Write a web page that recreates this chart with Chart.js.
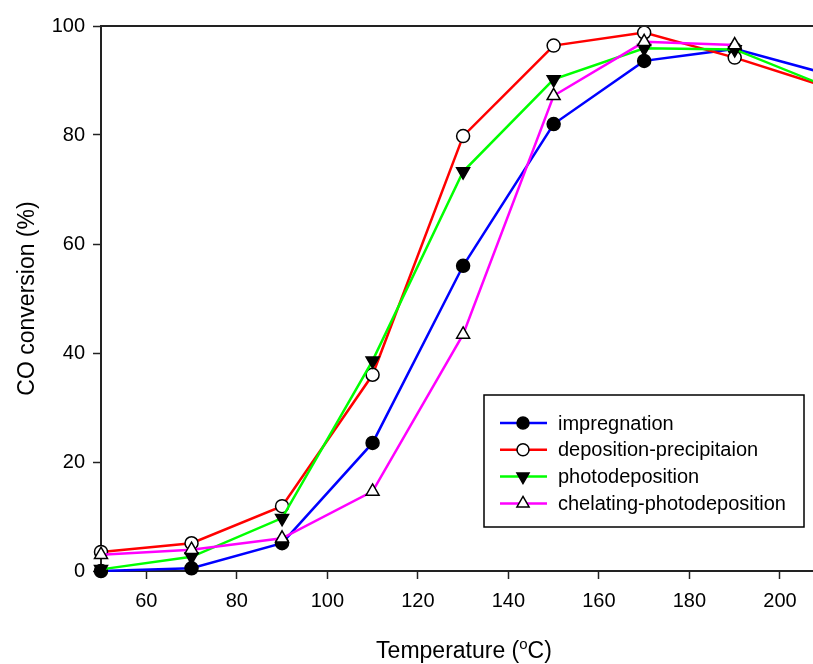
<!DOCTYPE html>
<html>
<head>
<meta charset="utf-8">
<script src="https://cdn.jsdelivr.net/npm/chart.js@4/dist/chart.umd.min.js"></script>
<style>
  html, body { margin: 0; padding: 0; background: #fff; }
  #wrap { width: 813px; height: 664px; }
</style>
</head>
<body>
<div id="wrap"><canvas id="coChart"></canvas></div>
<script>
// temperatures (°C)
const temps = [50, 70, 90, 110, 130, 150, 170, 190, 210];
const tempsChelating = [50, 70, 90, 110, 130, 150, 170, 190];

// CO conversion (%)
const impregnation = [0, 0.5, 5.1, 23.5, 56.0, 82.0, 93.6, 95.8, 91.3];
const depositionPrecipitation = [3.5, 5.1, 11.9, 36.0, 79.8, 96.4, 98.8, 94.2, 88.9];
const photodeposition = [0.3, 2.6, 9.7, 38.6, 73.3, 90.2, 95.9, 95.7, 89.0];
const chelatingPhotodeposition = [3.0, 3.9, 6.0, 14.6, 43.4, 87.2, 97.1, 96.5];

const seriesNames = ["impregnation", "deposition-precipitaion", "photodeposition", "chelating-photodeposition"];
const xTicks = [60, 80, 100, 120, 140, 160, 180, 200];
const yTicks = [0, 20, 40, 60, 80, 100];

const FONT = "'Liberation Sans', Arial, sans-serif";

function toPoints(xs, ys) {
  return xs.map((x, i) => ({ x: x, y: ys[i] }));
}

const styles = [
  { color: "#0000ff", style: "circle", fill: "#000", radius: 6.5, rotation: 0 },
  { color: "#ff0000", style: "circle", fill: "#fff", radius: 6.5, rotation: 0 },
  { color: "#00ff00", style: "triangle", fill: "#000", radius: 7.5, rotation: 180 },
  { color: "#ff00ff", style: "triangle", fill: "#fff", radius: 7.5, rotation: 0 }
];

const seriesData = [
  toPoints(temps, impregnation),
  toPoints(temps, depositionPrecipitation),
  toPoints(temps, photodeposition),
  toPoints(tempsChelating, chelatingPhotodeposition)
];

// later series are painted over earlier ones
const datasets = seriesData.map((pts, i) => ({
  label: seriesNames[i],
  data: pts,
  order: seriesData.length - i,
  showLine: true,
  borderColor: styles[i].color,
  borderWidth: 2.5,
  pointStyle: styles[i].style,
  pointRotation: styles[i].rotation,
  pointRadius: styles[i].radius,
  pointHoverRadius: styles[i].radius,
  pointBackgroundColor: styles[i].fill,
  pointBorderColor: "#000",
  pointBorderWidth: 1.5,
  clip: false
}));

// top frame line, axis titles and boxed legend
const decorations = {
  id: "decorations",
  afterDraw(chart) {
    const ctx = chart.ctx;
    const area = chart.chartArea;
    ctx.save();

    ctx.strokeStyle = "#222";
    ctx.lineWidth = 2;
    ctx.beginPath();
    ctx.moveTo(area.left, area.top);
    ctx.lineTo(area.right, area.top);
    ctx.stroke();

    ctx.fillStyle = "#000";
    ctx.textBaseline = "alphabetic";

    // x title with superscript o
    const big = "23px " + FONT, small = "15px " + FONT;
    ctx.font = big;
    const p1 = "Temperature (", p3 = "C)";
    const w1 = ctx.measureText(p1).width;
    const w3 = ctx.measureText(p3).width;
    ctx.font = small;
    const w2 = ctx.measureText("o").width;
    let x = 464 - (w1 + w2 + w3) / 2;
    const base = 658;
    ctx.font = big;
    ctx.textAlign = "left";
    ctx.fillText(p1, x, base);
    ctx.font = small;
    ctx.fillText("o", x + w1, base - 9);
    ctx.font = big;
    ctx.fillText(p3, x + w1 + w2, base);

    // y title
    ctx.save();
    ctx.translate(28, (area.top + area.bottom) / 2);
    ctx.rotate(-Math.PI / 2);
    ctx.textAlign = "center";
    ctx.textBaseline = "middle";
    ctx.font = big;
    ctx.fillText("CO conversion (%)", 0, 0);
    ctx.restore();

    // legend
    const lx = 484, ly = 395, lw = 320, lh = 132;
    ctx.fillStyle = "#fff";
    ctx.fillRect(lx, ly, lw, lh);
    ctx.strokeStyle = "#000";
    ctx.lineWidth = 1.5;
    ctx.strokeRect(lx, ly, lw, lh);
    ctx.font = "20px " + FONT;
    ctx.textBaseline = "middle";
    ctx.textAlign = "left";
    seriesNames.forEach((name, i) => {
      const y = 423 + i * 26.8;
      const s = styles[i];
      ctx.strokeStyle = s.color;
      ctx.lineWidth = 2.5;
      ctx.beginPath();
      ctx.moveTo(500, y);
      ctx.lineTo(547, y);
      ctx.stroke();
      ctx.fillStyle = s.fill;
      ctx.strokeStyle = "#000";
      ctx.lineWidth = 1.5;
      Chart.helpers.drawPoint(ctx, { pointStyle: s.style, radius: s.radius - 0.5, rotation: s.rotation, borderWidth: 1.5 }, 523, y);
      ctx.fillStyle = "#000";
      ctx.fillText(name, 558, y + 1);
    });

    ctx.restore();
  }
};

new Chart(document.getElementById("coChart"), {
  type: "scatter",
  data: { datasets: datasets },
  options: {
    responsive: true,
    maintainAspectRatio: false,
    animation: false,
    events: [],
    layout: { autoPadding: false, padding: { top: 26, right: 0, left: 0, bottom: 0 } },
    plugins: {
      legend: { display: false },
      tooltip: { enabled: false }
    },
    scales: {
      x: {
        type: "linear",
        min: 50,
        max: 207.3,
        afterFit: (scale) => { scale.height = 93; scale.paddingRight = 0; },
        afterBuildTicks: (scale) => {
          scale.ticks = xTicks.map(v => ({ value: v }));
        },
        grid: { drawOnChartArea: false, drawTicks: true, tickLength: 8, tickWidth: 1.5, tickColor: "#222" },
        border: { display: true, color: "#222", width: 2 },
        ticks: { padding: 10, color: "#000", font: { family: FONT, size: 20 }, maxRotation: 0 }
      },
      y: {
        min: 0,
        max: 100,
        afterFit: (scale) => { scale.width = 101; },
        afterBuildTicks: (scale) => {
          scale.ticks = yTicks.map(v => ({ value: v }));
        },
        grid: { drawOnChartArea: false, drawTicks: true, tickLength: 8, tickWidth: 1.5, tickColor: "#222" },
        border: { display: true, color: "#222", width: 2 },
        ticks: { padding: 8, color: "#000", font: { family: FONT, size: 20 } }
      }
    }
  },
  plugins: [decorations]
});
</script>
</body>
</html>
